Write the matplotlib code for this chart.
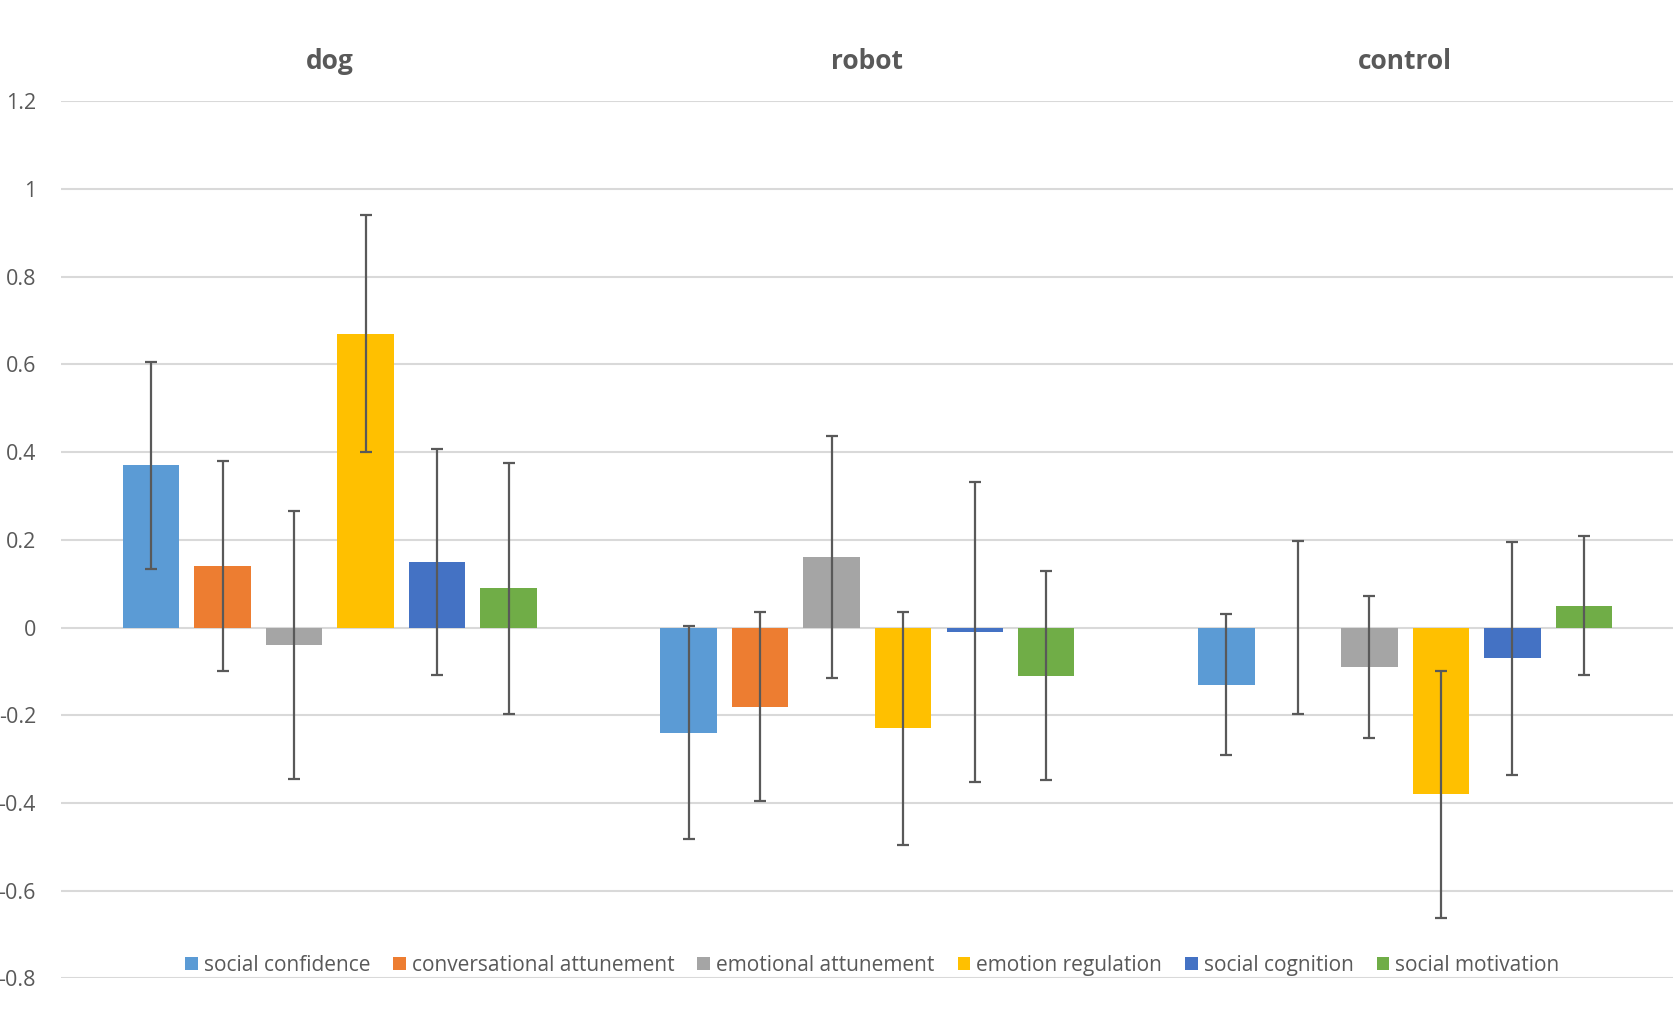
import numpy as np
import matplotlib
matplotlib.use("Agg")
import matplotlib.pyplot as plt

groups = ["dog", "robot", "control"]
series = ["social confidence", "conversational attunement", "emotional attunement",
          "emotion regulation", "social cognition", "social motivation"]
colors = ["#5B9BD5", "#ED7D31", "#A5A5A5", "#FFC000", "#4472C4", "#70AD47"]

# means per series, in order dog / robot / control
social_confidence = [0.37, -0.24, -0.13]
conversational_attunement = [0.14, -0.18, 0.0]
emotional_attunement = [-0.04, 0.16, -0.09]
emotion_regulation = [0.67, -0.23, -0.38]
social_cognition = [0.15, -0.01, -0.07]
social_motivation = [0.09, -0.11, 0.05]

# error bar half-widths
err_social_confidence = [0.236, 0.243, 0.16]
err_conversational_attunement = [0.24, 0.215, 0.197]
err_emotional_attunement = [0.305, 0.276, 0.162]
err_emotion_regulation = [0.27, 0.266, 0.282]
err_social_cognition = [0.258, 0.343, 0.265]
err_social_motivation = [0.286, 0.238, 0.158]

means = [social_confidence, conversational_attunement, emotional_attunement,
         emotion_regulation, social_cognition, social_motivation]
errs = [err_social_confidence, err_conversational_attunement, err_emotional_attunement,
        err_emotion_regulation, err_social_cognition, err_social_motivation]

plt.rcParams['font.family'] = ['Open Sans', 'DejaVu Sans']

fig = plt.figure(figsize=(16.74, 10.34), dpi=100)
ax = fig.add_axes([0.0364, 0.0537, 0.9636, 0.8483])

x = np.arange(len(groups))
width = 0.105
step = 0.133
for i, (name, vals, e, c) in enumerate(zip(series, means, errs, colors)):
    pos = x + (i - 2.5) * step
    ax.bar(pos, vals, width, color=c, label=name, zorder=2)
    ax.errorbar(pos, vals, yerr=e, fmt='none', ecolor='#595959', elinewidth=1.6,
                capsize=4, capthick=1.6, zorder=3)

ax.set_xlim(-0.5, 2.5)
ax.set_ylim(-0.8, 1.2)
ax.set_yticks(np.arange(-0.8, 1.21, 0.2))
ax.set_yticklabels(["-0.8", "-0.6", "-0.4", "-0.2", "0", "0.2", "0.4", "0.6", "0.8", "1", "1.2"])
ax.yaxis.grid(True, color='#D9D9D9', linewidth=1.5, zorder=0)
ax.tick_params(axis='y', length=0, pad=18, labelsize=15.5, labelcolor='#595959')

ax.xaxis.tick_top()
ax.set_xticks(x)
ax.set_xticklabels(groups, fontsize=19, fontweight='bold', color='#595959')
ax.tick_params(axis='x', length=0, pad=19)

for s in ax.spines.values():
    s.set_visible(False)

ax.legend(loc='lower center', bbox_to_anchor=(0.503, -0.018), ncol=6, frameon=False,
          fontsize=15, labelcolor='#595959', handlelength=0.6, handleheight=0.6,
          handletextpad=0.3, columnspacing=1.1)

fig.savefig("out.png", dpi=100)
